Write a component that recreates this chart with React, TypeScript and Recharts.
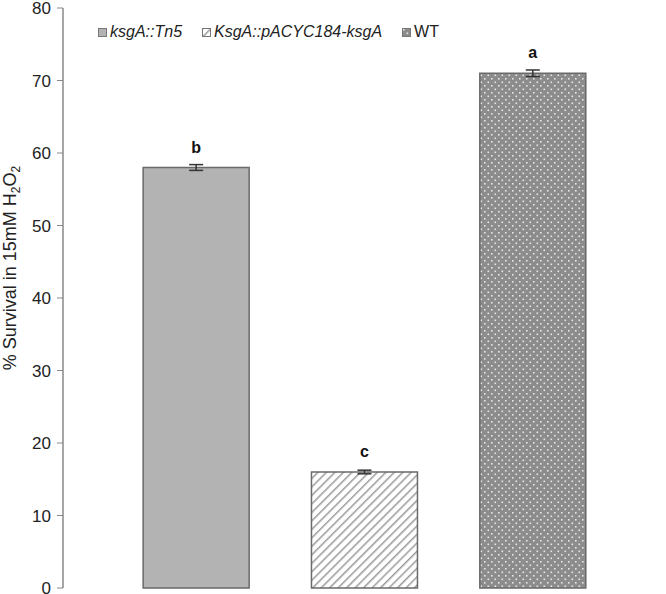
import { BarChart, Bar, XAxis, YAxis, Cell, ErrorBar, LabelList } from "recharts";

const strains = ["ksgA::Tn5", "KsgA::pACYC184-ksgA", "WT"];
const survival = [58, 16, 71];
const sem = [0.4, 0.25, 0.45];
const letters = ["b", "c", "a"];
const italic = [true, true, false];
const yTicks = [0, 10, 20, 30, 40, 50, 60, 70, 80];

const fills = ["#b3b3b3", "url(#hatch)", "url(#dots)"];

const data = strains.map((s, i) => ({
  strain: s,
  value: survival[i],
  err: sem[i],
  letter: letters[i],
}));

const font = "'Liberation Sans', Arial, sans-serif";

function LegendRow() {
  return (
    <div
      style={{
        position: "absolute",
        left: 98,
        top: 23,
        display: "flex",
        gap: 20,
        fontFamily: font,
        fontSize: 16,
        color: "#222",
        alignItems: "center",
      }}
    >
      {strains.map((s, i) => (
        <span key={s} style={{ display: "flex", alignItems: "center", gap: 3 }}>
          <svg width={9} height={9}>
            <rect x={0.5} y={0.5} width={8} height={8} fill={fills[i]} stroke="#777" strokeWidth={1} />
          </svg>
          <span style={{ fontStyle: italic[i] ? "italic" : "normal" }}>{s}</span>
        </span>
      ))}
    </div>
  );
}

function YLabel() {
  return (
    <text
      transform="translate(16, 268) rotate(-90)"
      textAnchor="middle"
      fontFamily={font}
      fontSize={18}
      fill="#222"
    >
      % Survival in 15mM H
      <tspan fontSize={12} dy={4}>2</tspan>
      <tspan dy={-4}>O</tspan>
      <tspan fontSize={12} dy={4}>2</tspan>
    </text>
  );
}

export default function App() {
  return (
    <div style={{ position: "absolute", left: 0, top: 0, width: 666, height: 594, background: "#fff" }}>
      <BarChart
        width={666}
        height={594}
        data={data}
        margin={{ top: 8, right: 0, left: 0, bottom: 6 }}
        barCategoryGap="18.5%"
      >
        <defs>
          <pattern id="hatch" width={6} height={6} patternUnits="userSpaceOnUse" patternTransform="rotate(45)">
            <rect width={6} height={6} fill="#fff" />
            <line x1={0} y1={0} x2={0} y2={6} stroke="#9a9a9a" strokeWidth={3} />
          </pattern>
          <pattern id="dots" width={7} height={7} patternUnits="userSpaceOnUse">
            <rect width={7} height={7} fill="#8c8c8c" />
            <rect x={1} y={1} width={1.6} height={1.6} fill="#e6e6e6" />
            <rect x={4.5} y={4.5} width={1.6} height={1.6} fill="#e6e6e6" />
          </pattern>
        </defs>
        <XAxis
          dataKey="strain"
          tick={false}
          tickLine={false}
          axisLine={{ stroke: "#888", strokeWidth: 1.5 }}
          padding={{ left: 49, right: 49 }}
          height={0}
        />
        <YAxis
          domain={[0, 80]}
          ticks={yTicks}
          width={63}
          interval={0}
          tick={{ fontSize: 17, fill: "#222", fontFamily: font }}
          tickLine={{ stroke: "#888" }}
          tickSize={6}
          tickMargin={6}
          axisLine={{ stroke: "#888", strokeWidth: 1.5 }}
          label={<YLabel />}
        />
        <Bar dataKey="value" isAnimationActive={false} stroke="#6a6a6a" strokeWidth={1.5}>
          {data.map((d, i) => (
            <Cell key={d.strain} fill={fills[i]} />
          ))}
          <ErrorBar dataKey="err" width={7} stroke="#333" strokeWidth={1.5} direction="y" />
          <LabelList
            dataKey="letter"
            position="top"
            offset={15}
            style={{ fontSize: 16, fill: "#111", fontFamily: font, fontWeight: "bold" }}
          />
        </Bar>
      </BarChart>
      <LegendRow />
    </div>
  );
}
